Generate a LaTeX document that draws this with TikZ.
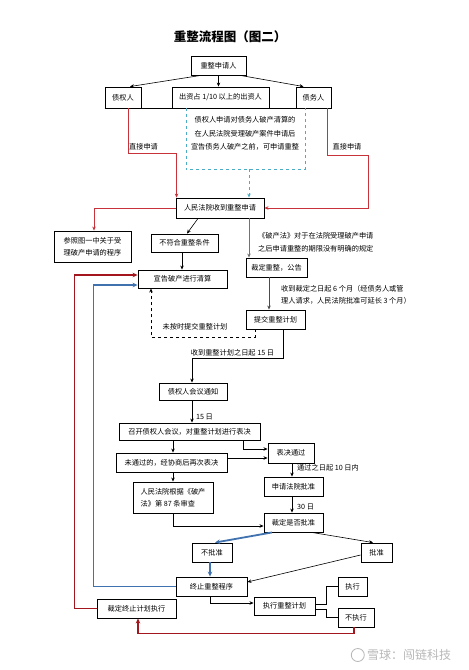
\documentclass[tikz,border=0pt]{standalone}
\usepackage{fontspec}
\newfontfamily\cjk{Noto Sans CJK SC}
\usetikzlibrary{arrows.meta,calc}
\definecolor{rd}{HTML}{C8323A}
\definecolor{drd}{HTML}{A3161E}
\definecolor{bl}{HTML}{3F72AF}
\definecolor{tl}{HTML}{4BACC6}
\begin{document}
\begin{tikzpicture}[x=1pt,y=-1pt,
  box/.style={draw,line width=0.9pt,inner sep=1pt,font=\cjk\fontsize{7.2}{12}\selectfont,align=center},
  lbl/.style={font=\cjk\fontsize{7.2}{13}\selectfont,inner sep=0pt},
  arr/.style={-{Stealth[length=4pt,width=3.5pt]},line width=0.6pt},
  thk/.style={-{Stealth[length=5pt,width=4.5pt]},line width=1.8pt}]
\useasboundingbox (0,0) rectangle (469,670);
\fill[white] (0,0) rectangle (469,670);

\node[font=\cjk\bfseries\fontsize{12.5}{14}\selectfont] (title) at (230,37) {重整流程图（图二）};

% nodes
\node[box,minimum width=55,minimum height=19] (req) at (218.5,65.5) {重整申请人};
\node[box,minimum width=36,minimum height=21] (cred) at (123,97.5) {债权人};
\node[box,minimum width=97,minimum height=21] (inv) at (220.5,97.5) {出资占 1/10 以上的出资人};
\node[box,minimum width=35,minimum height=21] (debt) at (313.5,97.5) {债务人};
\node[minimum width=119,minimum height=61,inner sep=0] (dbox) at (245.5,138.5) {};
\node[lbl,align=center,font=\cjk\fontsize{7.2}{13.5}\selectfont] (dtext) at (245,133.5) {债权人申请对债务人破产清算的\\在人民法院受理破产案件申请后\\宣告债务人破产之前，可申请重整};
\node[box,minimum width=88,minimum height=20] (court) at (220,208) {人民法院收到重整申请};
\node[box,minimum width=77,minimum height=31] (ref) at (92.5,246.5) {参照图一中关于受\\理破产申请的程序};
\node[box,minimum width=67,minimum height=18] (nofit) at (184.5,243) {不符合重整条件};
\node[box,minimum width=61,minimum height=19] (ruling) at (276.5,267.5) {裁定重整，公告};
\node[box,minimum width=89,minimum height=18] (liq) at (182.5,279) {宣告破产进行清算};
\node[box,minimum width=59,minimum height=19] (plan) at (275.5,319.5) {提交重整计划};
\node[box,minimum width=68,minimum height=17] (notice) at (193,391.5) {债权人会议通知};
\node[box,minimum width=141,minimum height=17] (meet) at (189.5,431.5) {召开债权人会议，对重整计划进行表决};
\node[box,minimum width=46,minimum height=20] (pass) at (291,453) {表决通过};
\node[box,minimum width=111,minimum height=19] (fail) at (171.5,462.5) {未通过的，经协商后再次表决};
\node[box,minimum width=59,minimum height=19] (apply) at (293.5,486.5) {申请法院批准};
\node[box,minimum width=80,minimum height=31,align=left] (review) at (173,497.5) {人民法院根据《破产\\法》第 87 条审查};
\node[box,minimum width=59,minimum height=19] (decide) at (293.5,522.5) {裁定是否批准};
\node[box,minimum width=40,minimum height=19] (reject) at (212,552.5) {不批准};
\node[box,minimum width=31,minimum height=19] (approve) at (376.5,552.5) {批准};
\node[box,minimum width=71,minimum height=19] (stop) at (211.5,586.5) {终止重整程序};
\node[box,minimum width=61,minimum height=18] (exec) at (284.5,606) {执行重整计划};
\node[box,minimum width=29,minimum height=19] (do) at (352.5,586.5) {执行};
\node[box,minimum width=36,minimum height=19] (notdo) at (356,617.5) {不执行};
\node[box,minimum width=79,minimum height=19] (term) at (136.5,608.5) {裁定终止计划执行};

% labels
\node[lbl] (l1) at (143.5,147) {直接申请};
\node[lbl] (l2) at (347,147) {直接申请};
\node[lbl,anchor=west,align=left] (l3) at (258,242.5) {《破产法》对于在法院受理破产申请\\之后申请重整的期限没有明确的规定};
\node[lbl,anchor=west,align=left,font=\cjk\fontsize{7.2}{12}\selectfont] (l4) at (281,295) {收到裁定之日起 6 个月（经债务人或管\\理人请求，人民法院批准可延长 3 个月）};
\node[lbl] (l5) at (195,327) {未按时提交重整计划};
\node[lbl] (l6) at (232.5,353) {收到重整计划之日起 15 日};
\node[lbl] (l7) at (204.5,417) {15 日};
\node[lbl,anchor=west] (l8) at (297,468) {通过之日起 10 日内};
\node[lbl,anchor=west] (l9) at (297,507) {30 日};

% top connectors
\draw[arr] ([xshift=-18]req.south) -- ([xshift=7]cred.north);
\draw[arr] (req.south) -- (req.south |- inv.north);
\draw[arr] ([xshift=22]req.south) -- ([xshift=-10]debt.north);
\draw[line width=0.9pt] (cred.south west) -- (debt.south east);
\draw[tl,dashed,line width=0.6pt] (dbox.north west) -- (dbox.south west) -- (dbox.south east) -- (dbox.north east);

\draw[rd,arr] ([xshift=5]cred.south) -- ++(0,45) -| ([xshift=1]court.north west);
\draw[rd,arr] ([xshift=13.5]debt.south) -- ++(0,47) -- ++(41,0) |- (court.east);
\draw[tl,dashed,arr] ([xshift=3.5]dbox.south) -- ([xshift=3.5]dbox.south |- court.north);

\draw[rd,arr] (court.west) -| ([xshift=1.5]ref.north);
\draw[arr] ([xshift=-22]court.south) -- ([xshift=2.5]nofit.north);
\draw[arr,black!55] ([xshift=29]court.south) -- ([xshift=29]court.south |- ruling.north);
\draw[arr] ([xshift=-2.5]nofit.south) -- ([xshift=-2.5]nofit.south |- liq.north);
\draw[arr,black!70] ([xshift=-7.5]ruling.south) -- ([xshift=-7.5]ruling.south |- plan.north);
\draw[arr,dashed] ([xshift=-20.5]plan.south) -- ++(0,8) -| ([xshift=-31.5]liq.south);
\draw[arr] ([xshift=7.5]plan.south) -- ++(0,29) -| ([xshift=-1]notice.north);
\draw[arr] ([xshift=-1]notice.south) -- ([xshift=-1]notice.south |- meet.north);
\draw[arr] ([xshift=53.5]meet.south) |- ([yshift=4]pass.west);
\draw[arr] ([xshift=-16.5]meet.south) -- ([xshift=-16.5]meet.south |- fail.north);
\draw[arr] ([yshift=4.5]fail.east) -- ([yshift=4.5]fail.east -| pass.west);
\draw[arr] ([xshift=1]pass.south) -- ([xshift=1]pass.south |- apply.north);
\draw[arr] ([xshift=-1.5]apply.south) -- ([xshift=-1.5]apply.south |- decide.north);
\draw[arr] ([xshift=1.5]fail.south) -- ([xshift=1.5]fail.south |- review.north);
\draw[arr] (review.south) |- ([yshift=-3.5]decide.west);
\draw[bl,thk] ([xshift=-21.5]decide.south) -- ([xshift=3]reject.north);
\draw[arr] ([xshift=18.5]decide.south) -- ([xshift=-3.5]approve.north);
\draw[bl,thk] ([xshift=-2]reject.south) -- ([xshift=-2]reject.south |- stop.north);
\draw[arr] ([yshift=-2.5]approve.west) -- ([yshift=4.5]stop.east);
\draw[bl,thk] (stop.west) -- ++(-82,0) |- ([yshift=-6]liq.west);
\draw[arr] ([xshift=-1.5]stop.south) |- ([yshift=3]exec.west);
\draw[line width=0.6pt] ([yshift=2]exec.east) -- ++(11,0) |- (do.west);
\draw[line width=0.6pt] ([yshift=-3]exec.east) -- ++(11,0) |- (notdo.west);
\draw[drd,thk] ([xshift=-2]notdo.south) -- ++(0,6) -| ([xshift=1.5]term.south);
\draw[drd,thk] (term.west) -- ++(-22,0) |- ([yshift=4]liq.west);

% watermark
\node[font=\cjk\fontsize{12}{13}\selectfont,text=black!28,inner sep=0] (wm) at (409,655) {雪球：闯链科技};
\draw[black!28,line width=0.8pt] ([xshift=-9]wm.west) circle (6.5);
\end{tikzpicture}
\end{document}
